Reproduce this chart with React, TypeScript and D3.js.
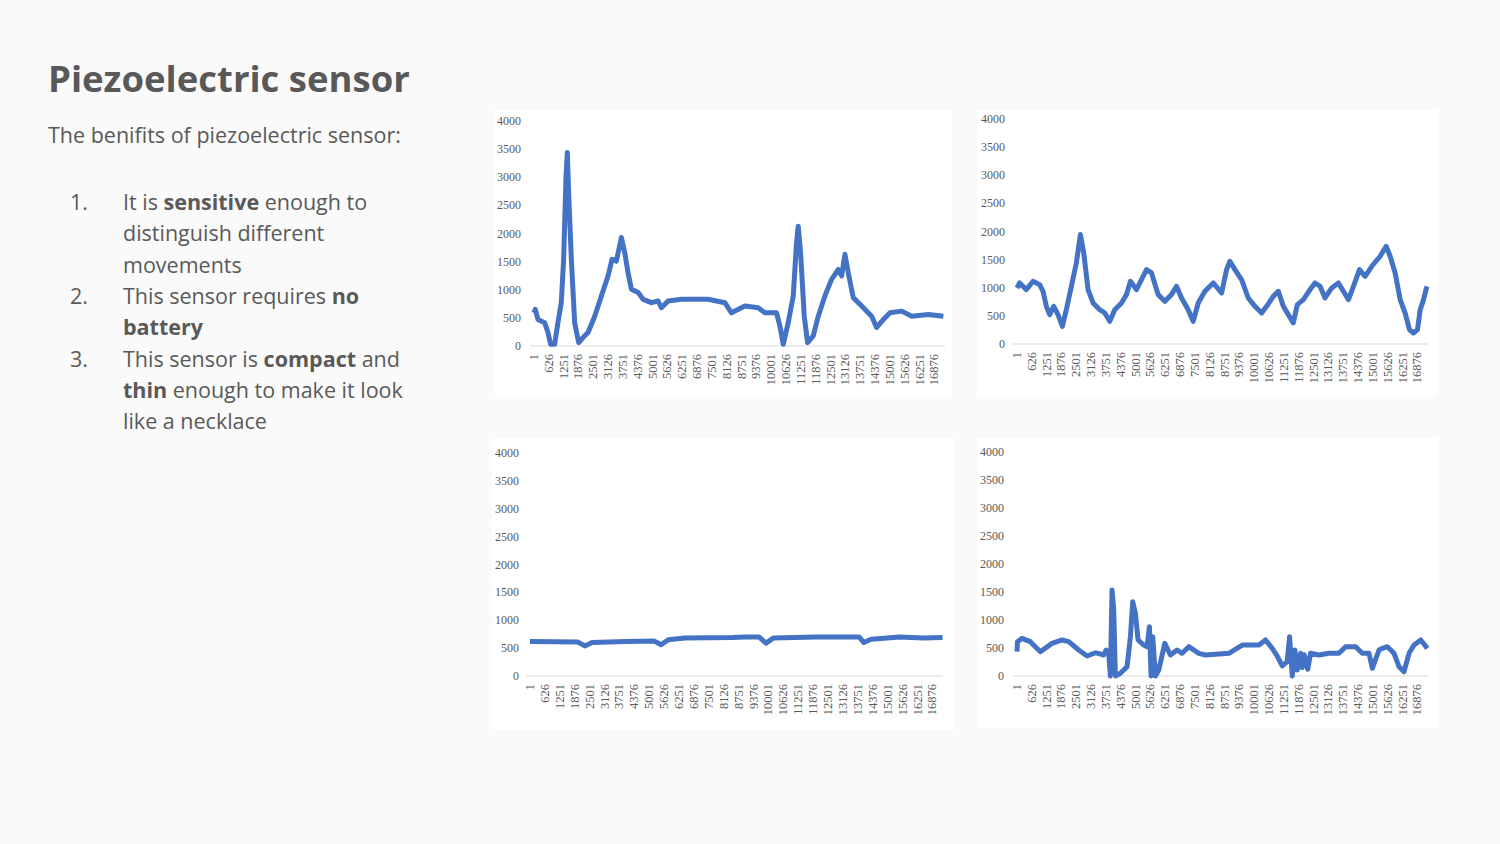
import React from "react";
import * as d3 from "d3";

// sample index ticks every 625 samples, as in the source spreadsheet
const xTicks = d3.range(1, 16877, 625);
const yTicks = [0, 500, 1000, 1500, 2000, 2500, 3000, 3500, 4000];

// [sample, reading] keypoints
const sensorA: [number, number][] = [
  [1, 590], [56, 650], [170, 470], [450, 415], [590, 240], [700, 30], [870, 30], [1010, 415],
  [1150, 770], [1250, 1540], [1350, 3020], [1406, 3440], [1460, 2730], [1575, 1540], [1715, 415],
  [1884, 60], [2067, 150], [2278, 240], [2560, 530], [2840, 890], [3121, 1245], [3290, 1540],
  [3473, 1510], [3684, 1930], [3824, 1660], [3965, 1300], [4106, 1010], [4387, 950], [4598, 830],
  [4950, 770], [5230, 800], [5370, 680], [5652, 800], [6215, 830], [7340, 830], [8043, 770],
  [8324, 590], [8886, 710], [9448, 680], [9730, 590], [10222, 590], [10362, 355], [10503, 30],
  [10714, 415], [10925, 890], [11065, 1840], [11135, 2130], [11234, 1660], [11389, 530],
  [11529, 60], [11768, 180], [11979, 530], [12260, 890], [12541, 1185], [12823, 1360],
  [12963, 1245], [13104, 1630], [13244, 1300], [13455, 860], [13807, 710], [14229, 530],
  [14440, 330], [14721, 470], [15002, 590], [15494, 620], [15916, 530], [16619, 560], [17252, 530],
];

const sensorB: [number, number][] = [
  [1, 996], [113, 1085], [394, 967], [676, 1115], [957, 1055], [1097, 937], [1238, 670],
  [1378, 522], [1547, 670], [1730, 522], [1912, 314], [2081, 610], [2292, 1026], [2503, 1441],
  [2672, 1945], [2813, 1619], [2996, 967], [3207, 729], [3488, 610], [3699, 551], [3910, 403],
  [4121, 610], [4402, 729], [4613, 878], [4782, 1115], [5035, 967], [5246, 1144], [5457, 1322],
  [5668, 1263], [5949, 878], [6230, 759], [6512, 878], [6723, 1026], [6934, 818], [7215, 610],
  [7426, 403], [7637, 729], [7919, 937], [8270, 1085], [8622, 907], [8832, 1322], [8973, 1471],
  [9184, 1322], [9465, 1144], [9746, 818], [10027, 670], [10309, 551], [10520, 670], [10801, 848],
  [11012, 937], [11223, 670], [11434, 522], [11643, 374], [11815, 700], [12068, 789], [12349, 967],
  [12560, 1085], [12771, 1026], [12982, 818], [13263, 996], [13545, 1085], [13756, 937],
  [13967, 789], [14178, 1026], [14431, 1322], [14670, 1204], [14951, 1382], [15303, 1560],
  [15556, 1737], [15725, 1560], [15936, 1263], [16147, 789], [16358, 551], [16540, 255],
  [16709, 196], [16878, 255], [16991, 610], [17132, 789], [17273, 1026],
];

const sensorC: [number, number][] = [
  [1, 620], [1000, 615], [2000, 610], [2300, 540], [2600, 600], [4000, 620], [5200, 630],
  [5500, 560], [5800, 650], [6500, 680], [8500, 690], [9000, 700], [9600, 700], [9900, 590],
  [10200, 680], [12000, 700], [13800, 700], [14000, 600], [14300, 660], [15500, 700],
  [16500, 680], [17300, 690],
];

const sensorD: [number, number][] = [
  [1, 434], [20, 613], [211, 672], [562, 613], [984, 434], [1476, 583], [1898, 643], [2180, 613],
  [2601, 464], [2953, 357], [3304, 416], [3655, 375], [3754, 464], [3866, 405], [3936, 0],
  [4006, 1535], [4077, 1178], [4147, 0], [4358, 48], [4639, 167], [4780, 702], [4878, 1327],
  [4991, 1119], [5103, 643], [5342, 553], [5482, 524], [5581, 881], [5651, 0], [5721, 702],
  [5834, 0], [5975, 107], [6228, 583], [6467, 375], [6748, 464], [6959, 405], [7240, 524],
  [7662, 405], [7943, 375], [8927, 405], [9490, 553], [10193, 553], [10474, 643], [10755, 494],
  [10966, 357], [11177, 179], [11388, 256], [11487, 702], [11600, 0], [11712, 464], [11810, 107],
  [11951, 405], [12020, 150], [12100, 380], [12162, 286], [12250, 120], [12373, 405], [12724, 375],
  [13146, 405], [13568, 405], [13849, 524], [14271, 524], [14552, 405], [14833, 405],
  [14974, 137], [15256, 464], [15396, 494], [15607, 524], [15888, 405], [16099, 167],
  [16310, 77], [16521, 405], [16732, 553], [17013, 643], [17294, 494],
];

const panels = [
  { data: sensorA, box: [495, 110, 457, 287], y0: 346, y4: 121, x0: 534, x1: 945, lx: 521 },
  { data: sensorB, box: [977, 110, 461, 287], y0: 344, y4: 119, x0: 1017, x1: 1428, lx: 1005 },
  { data: sensorC, box: [492, 438, 463, 292], y0: 676, y4: 453, x0: 530, x1: 943, lx: 519 },
  { data: sensorD, box: [977, 438, 461, 290], y0: 676, y4: 452, x0: 1017, x1: 1428, lx: 1004 },
];

const grey = "#595959";
const font = "'Liberation Serif', 'DejaVu Serif', serif";

function Chart({ p }: { p: any }) {
  // last tick 16876 sits a bit before the end of the data
  const x = d3.scaleLinear().domain([1, 17320]).range([p.x0, p.x1]);
  const y = d3.scaleLinear().domain([0, 4000]).range([p.y0, p.y4]);
  const line = d3.line<[number, number]>().x((d) => x(d[0])).y((d) => y(d[1]));
  const [bx, by, bw, bh] = p.box;
  return (
    <g>
      <rect x={bx} y={by} width={bw} height={bh} fill="#fff" />
      {yTicks.map((t) => (
        <text key={t} x={p.lx} y={y(t) + 4} textAnchor="end" fontSize={12} fill={grey} fontFamily={font}>
          {t}
        </text>
      ))}
      <line x1={p.x0 - 4} x2={p.x1} y1={p.y0} y2={p.y0} stroke="#d9d9d9" />
      {xTicks.map((t) => (
        <text
          key={t}
          transform={`translate(${x(t) + 4},${p.y0 + 8}) rotate(-90)`}
          textAnchor="end"
          fontSize={12.5}
          fill={grey}
          fontFamily={font}
        >
          {t}
        </text>
      ))}
      <path d={line(p.data) || ""} fill="none" stroke="#4472C4" strokeWidth={5} strokeLinejoin="round" />
    </g>
  );
}

const listItems = [
  { n: "1.", lines: [[["It is ", false], ["sensitive", true], [" enough to", false]], [["distinguish different", false]], [["movements", false]]] },
  { n: "2.", lines: [[["This sensor requires ", false], ["no", true]], [["battery", true]]] },
  { n: "3.", lines: [[["This sensor is ", false], ["compact", true], [" and", false]], [["thin", true], [" enough to make it look", false]], [["like a necklace", false]]] },
];

export default function App() {
  const tf = "'Open Sans', Roboto, sans-serif";
  let row = 0;
  return (
    <svg width={1500} height={844} style={{ position: "fixed", left: 0, top: 0 }}>
      <rect width={1500} height={844} fill="#fafafa" />
      <text x={48} y={92} fontSize={36.5} fontWeight={700} fill={grey} fontFamily={tf}>
        Piezoelectric sensor
      </text>
      <text x={48} y={143} fontSize={21.5} fill={grey} fontFamily={tf}>
        The benifits of piezoelectric sensor:
      </text>
      {listItems.map((it) => {
        const start = row;
        const els = it.lines.map((ln, i) => {
          const yy = 210 + (row++) * 31.3;
          return (
            <text key={i} x={123} y={yy} fontSize={21.5} fill={grey} fontFamily={tf}>
              {ln.map((s: any, j: number) => (
                <tspan key={j} fontWeight={s[1] ? 700 : 400}>{s[0]}</tspan>
              ))}
            </text>
          );
        });
        return (
          <g key={it.n}>
            <text x={70} y={210 + start * 31.3} fontSize={21.5} fill={grey} fontFamily={tf}>{it.n}</text>
            {els}
          </g>
        );
      })}
      {panels.map((p, i) => (
        <Chart key={i} p={p} />
      ))}
    </svg>
  );
}
